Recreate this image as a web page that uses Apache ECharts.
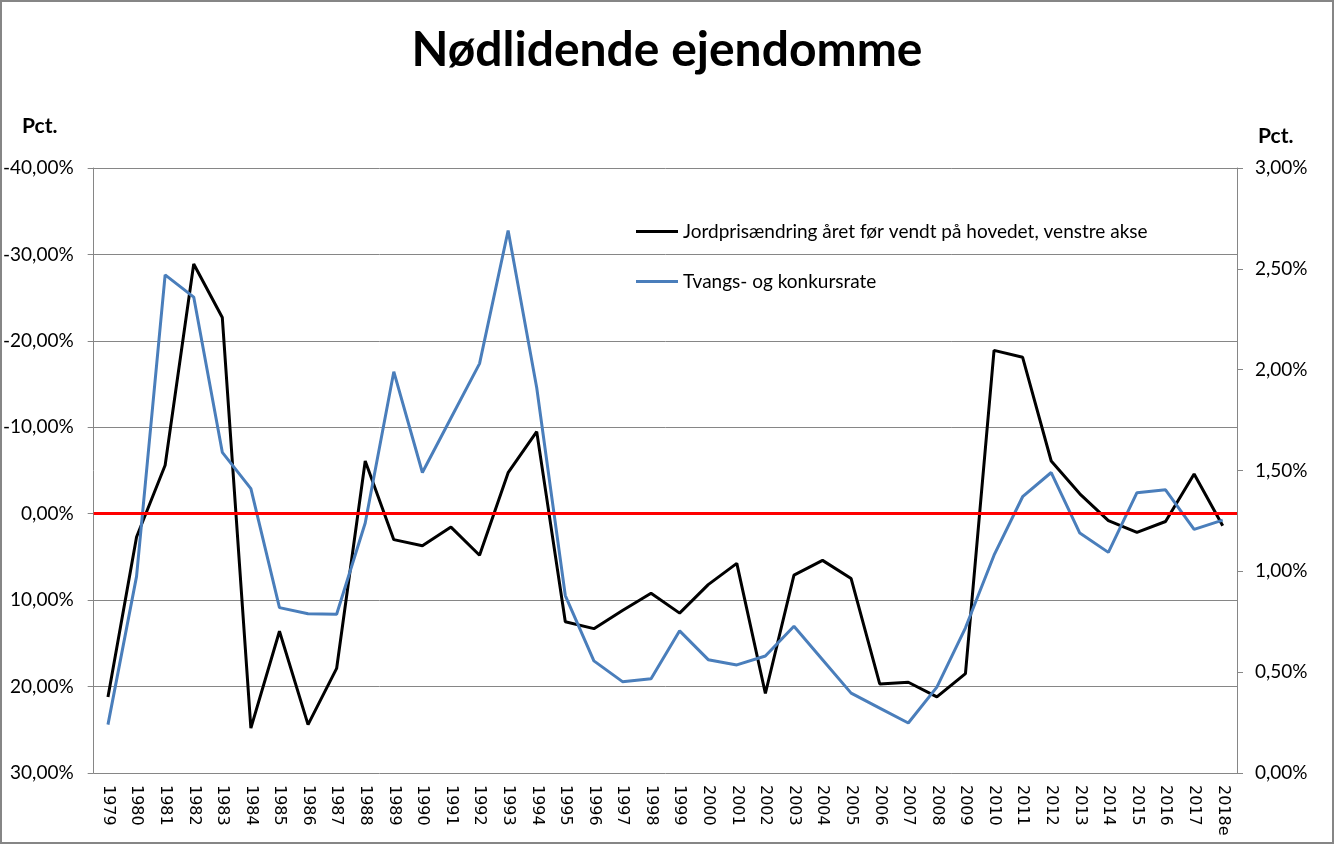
<!DOCTYPE html>
<html>
<head>
<meta charset="utf-8">
<script src="https://cdn.jsdelivr.net/npm/echarts@6/dist/echarts.min.js"></script>
<style>
html,body{margin:0;padding:0;background:#fff;}
#c{width:1334px;height:844px;}
</style>
</head>
<body>
<div id="c"></div>
<script>
var years = ['1979','1980','1981','1982','1983','1984','1985','1986','1987','1988',
  '1989','1990','1991','1992','1993','1994','1995','1996','1997','1998',
  '1999','2000','2001','2002','2003','2004','2005','2006','2007','2008',
  '2009','2010','2011','2012','2013','2014','2015','2016','2017','2018e'];
// Jordprisændring året før (pct.), plotted on inverted left axis
var jordpris = [21.2, 2.7, -5.6, -28.9, -22.7, 24.8, 13.6, 24.4, 17.9, -6.1,
  3.0, 3.7, 1.55, 4.8, -4.75, -9.5, 12.5, 13.3, 11.2, 9.2,
  11.5, 8.2, 5.75, 20.8, 7.1, 5.4, 7.5, 19.7, 19.5, 21.2,
  18.5, -18.9, -18.1, -6.1, -2.3, 0.8, 2.15, 0.9, -4.6, 1.4];
// Tvangs- og konkursrate (pct.), right axis
var rate = [0.24, 0.975, 2.47, 2.36, 1.59, 1.41, 0.82, 0.79, 0.787, 1.24,
  1.99, 1.49, 1.76, 2.03, 2.69, 1.91, 0.88, 0.556, 0.453, 0.467,
  0.705, 0.562, 0.536, 0.58, 0.728, 0.562, 0.396, 0.322, 0.248, 0.426,
  0.72, 1.08, 1.37, 1.49, 1.19, 1.094, 1.39, 1.404, 1.208, 1.254];
var seriesNames = ['Jordprisændring året før vendt på hovedet, venstre akse', 'Tvangs- og konkursrate'];
var titleText = 'Nødlidende ejendomme';
var axisTitle = 'Pct.';

function fmt(v){ return v.toFixed(2).replace('.', ',') + '%'; }

var gray = '#868686';
var chart = echarts.init(document.getElementById('c'));
chart.setOption({
  animation: false,
  backgroundColor: '#fff',
  title: {
    text: titleText, left: 'center', top: 22,
    textStyle: {fontFamily: 'Lato', fontWeight: 'bold', fontSize: 48, color: '#000'}
  },
  graphic: [
    {type: 'rect', shape: {x: 1, y: 1, width: 1332, height: 842}, style: {fill: 'none', stroke: gray, lineWidth: 2}},
    {type: 'text', left: 22, top: 116, style: {text: axisTitle, fontFamily: 'Lato', fontWeight: 'bold', fontSize: 21, fill: '#000'}},
    {type: 'text', left: 1258, top: 126, style: {text: axisTitle, fontFamily: 'Lato', fontWeight: 'bold', fontSize: 21, fill: '#000'}}
  ],
  legend: {
    orient: 'vertical', left: 631, top: 217, itemWidth: 42, itemHeight: 3, itemGap: 31,
    icon: 'rect',
    textStyle: {fontFamily: 'Lato', fontSize: 19, color: '#000'},
    data: seriesNames
  },
  grid: {left: 92, right: 97, top: 168, bottom: 71, containLabel: false},
  xAxis: {
    type: 'category', data: years, boundaryGap: true,
    axisLine: {show: true, lineStyle: {color: gray, width: 1}},
    axisTick: {show: false},
    axisLabel: {rotate: -90, margin: 12, interval: 0, fontFamily: 'DejaVu Sans', fontSize: 16, color: '#000'}
  },
  yAxis: [
    {
      type: 'value', inverse: true, min: -40, max: 30, interval: 10, position: 'left',
      axisLine: {show: true, lineStyle: {color: gray}},
      axisTick: {show: true, length: 6, lineStyle: {color: gray}},
      splitLine: {show: true, lineStyle: {color: gray, width: 1}},
      axisLabel: {formatter: fmt, margin: 20, fontFamily: 'Lato', fontSize: 19, color: '#000'}
    },
    {
      type: 'value', min: 0, max: 3, interval: 0.5, position: 'right',
      axisLine: {show: true, lineStyle: {color: gray}},
      axisTick: {show: true, length: 6, lineStyle: {color: gray}},
      splitLine: {show: false},
      axisLabel: {formatter: fmt, margin: 18, fontFamily: 'Lato', fontSize: 19, color: '#000'}
    }
  ],
  series: [
    {
      name: seriesNames[0], type: 'line', yAxisIndex: 0, data: jordpris,
      symbol: 'none', color: '#000', lineStyle: {color: '#000', width: 3},
      markLine: {
        silent: true, symbol: ['none', 'none'], label: {show: false},
        lineStyle: {color: '#ff0000', width: 3, type: 'solid'},
        data: [{yAxis: 0}]
      }
    },
    {
      name: seriesNames[1], type: 'line', yAxisIndex: 1, data: rate,
      symbol: 'none', color: '#4a7ebb', lineStyle: {color: '#4a7ebb', width: 3}
    }
  ]
});
</script>
</body>
</html>
